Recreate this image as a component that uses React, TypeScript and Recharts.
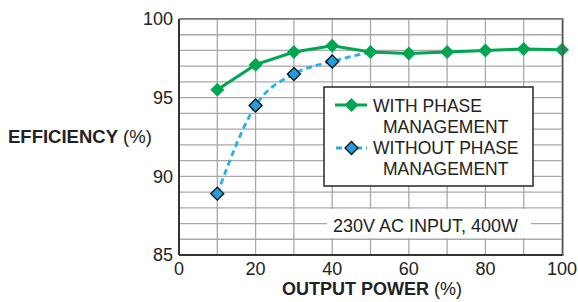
import React from "react";
import { LineChart, Line, XAxis, YAxis, CartesianGrid } from "recharts";

const outputPower = [10, 20, 30, 40, 50, 60, 70, 80, 90, 100];
const withPhaseMgmt = [95.5, 97.1, 97.9, 98.3, 97.9, 97.8, 97.9, 98.0, 98.1, 98.05];
const withoutPhaseMgmt = [88.9, 94.5, 96.5, 97.3, 97.9, null, null, null, null, null];
const xTicks = [0, 10, 20, 30, 40, 50, 60, 70, 80, 90, 100];
const yTicks = [85, 86, 87, 88, 89, 90, 91, 92, 93, 94, 95, 96, 97, 98, 99, 100];

const legendWith = ["WITH PHASE", "MANAGEMENT"];
const legendWithout = ["WITHOUT PHASE", "MANAGEMENT"];
const noteText = "230V AC INPUT, 400W";
const yTitle = "EFFICIENCY";
const xTitle = "OUTPUT POWER";

const data = outputPower.map((p, i) => ({
  p,
  withPhase: withPhaseMgmt[i],
  withoutPhase: withoutPhaseMgmt[i],
}));

const GREEN = "#00a651";
const BLUE_LINE = "#27b1e6";
const BLUE_FILL = "#1f9fe0";
const FONT = "'Liberation Sans', Arial, Helvetica, sans-serif";

const diamond = (cx: number, cy: number, r: number) =>
  `M${cx},${cy - r}L${cx + r},${cy}L${cx},${cy + r}L${cx - r},${cy}Z`;

const GreenDot = (props: any) => {
  const { cx, cy, index } = props;
  if (cx == null || cy == null) return <g key={`g${index}`} />;
  return <path key={`g${index}`} d={diamond(cx, cy, 7)} fill={GREEN} stroke="none" />;
};

const BlueDot = (props: any) => {
  const { cx, cy, index } = props;
  if (cx == null || cy == null || index >= 4) return <g key={`b${index}`} />;
  return (
    <path key={`b${index}`} d={diamond(cx, cy, 6.5)} fill={BLUE_FILL} stroke="#111" strokeWidth={1.3} />
  );
};

export default function App() {
  return (
    <div style={{ position: "absolute", left: 0, top: 0, width: 578, height: 302, background: "#fff", fontFamily: FONT }}>
      <LineChart
        width={578}
        height={302}
        data={data}
        margin={{ top: 19, right: 16, bottom: 17, left: 129 }}
      >
        <CartesianGrid stroke="#a8a8a8" strokeWidth={1.3} />
        <XAxis
          dataKey="p"
          type="number"
          domain={[0, 100]}
          ticks={xTicks}
          interval={0}
          tickLine={false}
          tickSize={0}
          tickMargin={7}
          height={30}
          axisLine={{ stroke: "#333", strokeWidth: 2 }}
          tickFormatter={(v: number) => (v % 20 === 0 ? String(v) : "")}
          tick={{ fill: "#222", fontSize: 18, fontFamily: FONT }}
        />
        <YAxis
          type="number"
          domain={[85, 100]}
          ticks={yTicks}
          interval={0}
          width={50}
          tickLine={false}
          tickSize={0}
          tickMargin={6}
          axisLine={{ stroke: "#333", strokeWidth: 2 }}
          tickFormatter={(v: number) => (v % 5 === 0 ? String(v) : "")}
          tick={{ fill: "#222", fontSize: 18, fontFamily: FONT }}
        />
        <Line
          type="monotone"
          dataKey="withoutPhase"
          stroke={BLUE_LINE}
          strokeWidth={2.8}
          strokeDasharray="6 4"
          dot={BlueDot}
          connectNulls={false}
          isAnimationActive={false}
        />
        <Line
          type="linear"
          dataKey="withPhase"
          stroke={GREEN}
          strokeWidth={3}
          dot={GreenDot}
          isAnimationActive={false}
        />
      </LineChart>
      <svg
        width={578}
        height={302}
        style={{ position: "absolute", left: 0, top: 0, pointerEvents: "none" }}
        fontFamily={FONT}
      >
        <rect x={562} y={18} width={1.5} height={238} fill="#555" />
        <rect x={179} y={18} width={384} height={1.5} fill="#777" />
        {/* legend */}
        <rect x={324} y={87} width={209} height={99} fill="#fff" stroke="#333" strokeWidth={1.6} />
        <line x1={335} y1={105} x2={367} y2={105} stroke={GREEN} strokeWidth={3} />
        <path d={diamond(351.5, 105, 7)} fill={GREEN} />
        <line x1={335} y1={148} x2={367} y2={148} stroke={BLUE_LINE} strokeWidth={2.8} strokeDasharray="6 4" strokeDashoffset={-1} />
        <path d={diamond(351.5, 148, 6.5)} fill={BLUE_FILL} stroke="#111" strokeWidth={1.3} />
        <text x={373} y={111.5} fontSize={17.5} fill="#222">{legendWith[0]}</text>
        <text x={383} y={132.5} fontSize={17.5} fill="#222">{legendWith[1]}</text>
        <text x={373} y={153.5} fontSize={17.5} fill="#222">{legendWithout[0]}</text>
        <text x={383} y={174.5} fontSize={17.5} fill="#222">{legendWithout[1]}</text>
        {/* note */}
        <rect x={327} y={209} width={204} height={29} fill="#fff" />
        <text x={333} y={231.5} fontSize={18} fill="#222">{noteText}</text>
        {/* axis titles */}
        <text x={8} y={143} fontSize={18.5} fill="#222">
          <tspan fontWeight="bold">{yTitle}</tspan>
          <tspan> (%)</tspan>
        </text>
        <text x={372} y={294.5} fontSize={18} fill="#222" textAnchor="middle">
          <tspan fontWeight="bold">{xTitle}</tspan>
          <tspan> (%)</tspan>
        </text>
      </svg>
    </div>
  );
}
